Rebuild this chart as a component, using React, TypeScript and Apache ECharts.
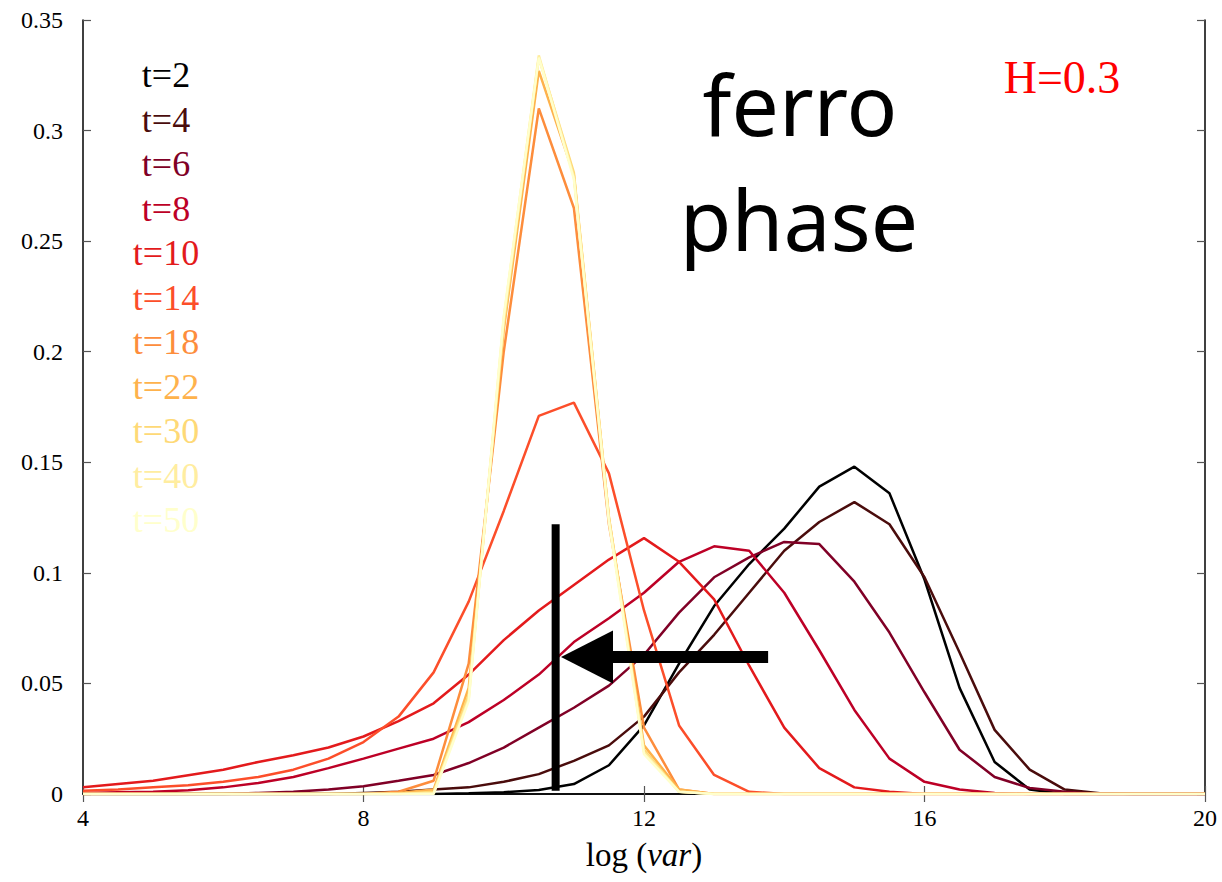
import React, { useEffect, useRef } from "react";
import * as echarts from "echarts";

const xs = [4, 4.5, 5, 5.5, 6, 6.5, 7, 7.5, 8, 8.5, 9, 9.5, 10, 10.5, 11, 11.5, 12, 12.5, 13, 13.5, 14, 14.5, 15, 15.5, 16, 16.5, 17, 17.5, 18, 18.5, 19, 19.5, 20];

const seriesNames = ["t=2", "t=4", "t=6", "t=8", "t=10", "t=14", "t=18", "t=22", "t=30", "t=40", "t=50"];
const seriesColors = ["#000000", "#4a0c0c", "#800026", "#bd0026", "#e31a1c", "#fc4e2a", "#fd8d3c", "#feb24c", "#fed976", "#ffeda0", "#ffffcc"];

const t2 = [0, 0, 0, 0, 0, 0, 0, 0, 0, 0, 0, 0.0003, 0.0008, 0.0018, 0.0045, 0.013, 0.031, 0.059, 0.085, 0.104, 0.12, 0.139, 0.148, 0.136, 0.097, 0.048, 0.0145, 0.002, 0, 0, 0, 0, 0];
const t4 = [0, 0, 0, 0, 0, 0, 0, 0, 0.0005, 0.001, 0.002, 0.003, 0.0055, 0.009, 0.015, 0.022, 0.035, 0.055, 0.072, 0.091, 0.11, 0.123, 0.132, 0.122, 0.098, 0.064, 0.029, 0.011, 0.002, 0.0003, 0, 0, 0];
const t6 = [0, 0, 0, 0, 0, 0.0005, 0.001, 0.002, 0.0035, 0.006, 0.0086, 0.014, 0.021, 0.03, 0.039, 0.049, 0.063, 0.082, 0.098, 0.107, 0.114, 0.113, 0.096, 0.073, 0.046, 0.02, 0.0077, 0.0027, 0.001, 0, 0, 0, 0];
const t8 = [0.0005, 0.0008, 0.001, 0.0017, 0.003, 0.005, 0.0077, 0.0117, 0.016, 0.0205, 0.025, 0.0325, 0.0425, 0.054, 0.0687, 0.0795, 0.091, 0.105, 0.112, 0.11, 0.091, 0.065, 0.038, 0.016, 0.0055, 0.002, 0.0005, 0, 0, 0, 0, 0, 0];
const t10 = [0.003, 0.0045, 0.006, 0.0085, 0.011, 0.0145, 0.0175, 0.021, 0.026, 0.033, 0.041, 0.054, 0.0696, 0.083, 0.0945, 0.106, 0.1157, 0.105, 0.088, 0.058, 0.03, 0.0117, 0.003, 0.001, 0, 0, 0, 0, 0, 0, 0, 0, 0];
const t14 = [0.0015, 0.002, 0.003, 0.004, 0.0055, 0.0077, 0.011, 0.016, 0.0235, 0.035, 0.055, 0.087, 0.128, 0.171, 0.177, 0.145, 0.083, 0.031, 0.0086, 0.001, 0, 0, 0, 0, 0, 0, 0, 0, 0, 0, 0, 0, 0];
const t18 = [0, 0, 0, 0, 0, 0, 0, 0, 0, 0.001, 0.006, 0.059, 0.2, 0.31, 0.265, 0.122, 0.03, 0.002, 0, 0, 0, 0, 0, 0, 0, 0, 0, 0, 0, 0, 0, 0, 0];
const t22 = [0, 0, 0, 0, 0, 0, 0, 0, 0, 0.0005, 0.002, 0.048, 0.21, 0.327, 0.28, 0.125, 0.022, 0.002, 0, 0, 0, 0, 0, 0, 0, 0, 0, 0, 0, 0, 0, 0, 0];
const t30 = [0, 0, 0, 0, 0, 0, 0, 0, 0, 0, 0.001, 0.045, 0.212, 0.333, 0.281, 0.125, 0.02, 0.001, 0, 0, 0, 0, 0, 0, 0, 0, 0, 0, 0, 0, 0, 0, 0];
const t40 = [0, 0, 0, 0, 0, 0, 0, 0, 0, 0, 0.0005, 0.043, 0.215, 0.334, 0.279, 0.124, 0.019, 0.001, 0, 0, 0, 0, 0, 0, 0, 0, 0, 0, 0, 0, 0, 0, 0];
const t50 = [0, 0, 0, 0, 0, 0, 0, 0, 0, 0, 0, 0.042, 0.216, 0.333, 0.278, 0.123, 0.018, 0.001, 0, 0, 0, 0, 0, 0, 0, 0, 0, 0, 0, 0, 0, 0, 0];
const seriesValues = [t2, t4, t6, t8, t10, t14, t18, t22, t30, t40, t50];

// annotation (vertical bar + arrow), in data units
const barX = 10.74;
const barTop = 0.122;
const arrowY = 0.062;
const arrowTailX = 13.77;
const arrowShaftStartX = 11.45;
const arrowHeadX = 11.187;

const xTicks = { min: 4, max: 20, interval: 4 };
const yTicks = { min: 0, max: 0.35, interval: 0.05 };

const serif = "'Liberation Serif', 'Times New Roman', serif";

export default function App() {
  const ref = useRef<HTMLDivElement>(null);

  useEffect(() => {
    if (!ref.current) return;
    const chart = echarts.init(ref.current, null, { renderer: "svg" });

    const lineSeries = seriesNames.map((name, i) => ({
      name,
      type: "line",
      data: xs.map((x, k) => [x, seriesValues[i][k]]),
      showSymbol: false,
      symbol: "none",
      lineStyle: { color: seriesColors[i], width: 2.5 },
      itemStyle: { color: seriesColors[i] },
      z: 3 + i * 0.01,
    }));

    const axisLineStyle = { color: "#000", width: 1.5 };
    const tickStyle = { color: "#555", width: 1.2 };

    chart.setOption({
      animation: false,
      backgroundColor: "#fff",
      grid: { left: 83, right: 17, top: 20, bottom: 88, containLabel: false },
      legend: {
        orient: "vertical",
        left: 111,
        top: 52,
        icon: "none",
        itemWidth: 0,
        itemHeight: 10,
        itemGap: 8.5,
        selectedMode: false,
        formatter: "{c|{name}}",
        data: seriesNames.map((n, i) => ({
          name: n,
          textStyle: { color: seriesColors[i] },
        })),
        textStyle: {
          fontFamily: serif,
          fontSize: 36,
          rich: {
            c: { width: 90, align: "center", fontFamily: serif, fontSize: 36 },
          },
        },
      },
      xAxis: [
        {
          type: "value",
          ...xTicks,
          position: "bottom",
          name: "{a|log (}{b|var}{a|)}",
          nameLocation: "middle",
          nameGap: 44,
          nameTextStyle: {
            rich: {
              a: { fontFamily: serif, fontSize: 33, color: "#000" },
              b: { fontFamily: serif, fontSize: 33, fontStyle: "italic", color: "#000" },
            },
          },
          axisLine: { show: true, lineStyle: axisLineStyle },
          axisTick: { show: true, inside: true, length: 8, lineStyle: tickStyle },
          axisLabel: { fontFamily: serif, fontSize: 24, color: "#000", margin: 12 },
          splitLine: { show: false },
        },
        {
          type: "value",
          ...xTicks,
          position: "top",
          axisLine: { show: true, lineStyle: axisLineStyle },
          axisTick: { show: true, inside: true, length: 8, lineStyle: tickStyle },
          axisLabel: { show: false },
          splitLine: { show: false },
        },
      ],
      yAxis: [
        {
          type: "value",
          ...yTicks,
          position: "left",
          axisLine: { show: true, lineStyle: axisLineStyle },
          axisTick: { show: true, inside: true, length: 8, lineStyle: tickStyle },
          axisLabel: { fontFamily: serif, fontSize: 24, color: "#000", margin: 20 },
          splitLine: { show: false },
        },
        {
          type: "value",
          ...yTicks,
          position: "right",
          axisLine: { show: true, lineStyle: axisLineStyle },
          axisTick: { show: true, inside: true, length: 8, lineStyle: tickStyle },
          axisLabel: { show: false },
          splitLine: { show: false },
        },
      ],
      series: [
        ...lineSeries,
        {
          name: "bar",
          type: "line",
          data: [[barX, 0.0015], [barX, barTop]],
          symbol: "none",
          lineStyle: { color: "#000", width: 8, cap: "butt" },
          z: 5,
        },
        {
          name: "arrowShaft",
          type: "line",
          data: [[arrowShaftStartX, arrowY], [arrowTailX, arrowY]],
          symbol: "none",
          lineStyle: { color: "#000", width: 12, cap: "butt" },
          z: 5,
        },
        {
          name: "arrowHead",
          type: "scatter",
          data: [[arrowHeadX, arrowY]],
          symbol: "triangle",
          symbolRotate: 90,
          symbolSize: [53, 52],
          itemStyle: { color: "#000", opacity: 1 },
          z: 5,
        },
      ],
      graphic: [
        {
          type: "text",
          x: 800,
          y: 103,
          style: {
            text: "ferro",
            fontFamily: "'Comic Sans MS', 'Noto Sans', sans-serif",
            fontSize: 84,
            fill: "#000",
            textAlign: "center",
            textVerticalAlign: "middle",
          },
        },
        {
          type: "text",
          x: 799,
          y: 218,
          style: {
            text: "phase",
            fontFamily: "'Comic Sans MS', 'Noto Sans', sans-serif",
            fontSize: 84,
            fill: "#000",
            textAlign: "center",
            textVerticalAlign: "middle",
          },
        },
        {
          type: "text",
          x: 1062,
          y: 77,
          style: {
            text: "H=0.3",
            fontFamily: serif,
            fontSize: 46,
            fill: "#ff0000",
            textAlign: "center",
            textVerticalAlign: "middle",
          },
        },
      ],
    });

    return () => chart.dispose();
  }, []);

  return (
    <div
      ref={ref}
      style={{ position: "fixed", left: 0, top: 0, width: 1222, height: 882, background: "#fff" }}
    />
  );
}
